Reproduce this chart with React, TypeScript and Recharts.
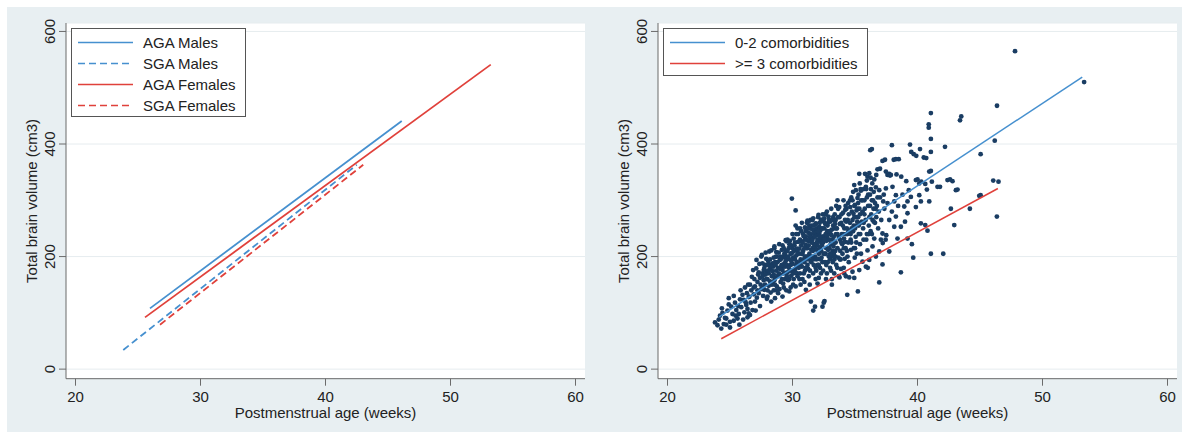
import React from "react";
import { CartesianGrid, Legend, Scatter, ScatterChart, XAxis, YAxis } from "recharts";

const FONT = "'Liberation Sans', Arial, Helvetica, sans-serif";
const BLUE = "#4690cf";
const RED = "#e0413b";
const NAVY = "#1a3d63";
const AXIS = "#6b6b6b";

const weekTicks = [20, 30, 40, 50, 60];
const volumeTicks = [0, 200, 400, 600];

// left panel: fitted lines by birth weight group and sex
const agaMales = [[25.96, 108], [46.1, 441]];
const sgaMales = [[23.82, 34], [42.5, 363]];
const agaFemales = [[25.56, 92], [53.22, 541]];
const sgaFemales = [[26.76, 79], [43.02, 363]];

// right panel: fitted lines by number of comorbidities
const fewComorbidities = [[24.14, 93], [53.18, 519]];
const manyComorbidities = [[24.3, 54], [46.43, 321]];

// right panel: individual scans (week, cm3)
const scans = [
  [23.8, 83], [24.0, 78], [24.1, 88], [24.2, 95], [24.3, 72], [24.35, 108], [24.5, 80], [24.4, 100], [24.6, 91], [24.7, 79],
  [24.7, 90], [24.8, 104], [24.9, 126], [25.0, 74], [25.1, 111], [25.2, 98], [25.3, 86], [25.4, 118], [25.45, 95], [25.5, 105],
  [25.0, 84], [25.3, 130], [24.9, 115],
  [25.6, 90], [25.7, 98], [25.75, 79], [25.8, 124], [25.9, 110], [26.0, 132], [26.1, 123], [26.15, 101], [26.2, 145], [26.3, 114],
  [26.35, 135], [26.4, 92], [26.45, 150], [26.5, 128], [26.5, 99], [25.85, 140], [26.05, 88], [26.25, 119], [25.65, 112], [26.4, 107],
  [26.55, 129], [26.6, 150], [26.65, 118], [26.7, 140], [26.8, 105], [26.85, 176], [26.9, 133], [26.95, 160], [27.0, 120], [27.0, 147],
  [27.1, 179], [27.12, 194], [27.15, 127], [27.2, 155], [27.25, 168], [27.3, 135], [27.35, 187], [27.4, 112], [27.45, 150], [27.5, 200],
  [27.5, 142], [26.75, 164], [27.05, 104], [27.3, 172], [26.6, 96], [27.2, 140], [26.9, 145], [27.4, 162],
  [27.55, 203], [27.6, 170], [27.65, 130], [27.7, 158], [27.75, 141], [27.8, 185], [27.85, 207], [27.9, 173], [27.95, 125], [28.0, 129],
  [28.0, 160], [28.05, 192], [28.1, 148], [28.14, 209], [28.2, 178], [28.25, 136], [28.3, 211], [28.35, 165], [28.4, 188], [28.45, 152],
  [28.5, 198], [28.54, 215], [28.5, 140], [27.6, 188], [27.8, 150], [28.1, 170], [28.3, 120], [28.4, 174], [27.7, 176], [28.2, 156],
  [28.0, 140], [27.9, 196], [28.45, 182], [28.15, 186], [27.65, 145],
  [27.6, 165], [27.75, 180], [27.9, 160], [28.05, 175], [28.2, 195], [28.35, 150], [28.5, 168], [28.6, 190], [28.75, 200], [28.85, 180],
  [28.3, 182], [28.0, 185], [27.85, 168], [28.55, 158], [28.7, 140],
  [28.55, 218], [28.6, 126], [28.62, 162], [28.67, 200], [28.7, 175], [28.75, 147], [28.8, 190], [28.85, 135], [28.9, 207], [28.94, 222],
  [28.99, 194], [29.0, 168], [29.05, 155], [29.1, 183], [29.15, 212], [29.2, 129], [29.2, 176], [29.25, 199], [29.3, 145], [29.35, 188],
  [29.4, 160], [29.45, 229], [29.47, 200], [29.5, 171], [29.52, 227], [28.65, 185], [28.8, 165], [28.95, 142], [29.1, 196], [29.3, 215],
  [29.4, 182], [28.7, 208], [29.0, 178], [29.25, 152], [29.45, 192], [28.9, 170], [29.15, 160], [29.35, 205], [28.6, 150], [29.5, 140],
  [29.05, 200], [29.15, 185], [29.3, 170], [29.45, 210], [29.55, 195], [29.7, 215], [29.85, 185], [29.95, 175], [30.1, 210], [30.2, 225],
  [30.3, 185], [30.45, 240], [29.2, 220], [29.6, 230], [29.9, 220], [30.05, 198], [30.35, 170], [29.75, 160], [30.25, 255], [29.4, 205],
  [29.55, 185], [29.6, 210], [29.65, 158], [29.7, 196], [29.74, 138], [29.75, 222], [29.8, 175], [29.85, 205], [29.9, 166], [29.95, 206],
  [29.95, 303], [30.0, 215], [30.0, 187], [30.05, 150], [30.1, 232], [30.15, 198], [30.2, 178], [30.25, 282], [30.25, 147], [30.27, 212],
  [30.3, 240], [30.35, 190], [30.4, 165], [30.45, 226], [30.5, 205], [30.5, 180], [29.6, 172], [29.7, 180], [29.8, 228], [29.9, 192],
  [30.05, 170], [30.15, 220], [30.3, 202], [30.4, 250], [30.45, 185], [29.65, 200], [29.85, 145], [30.1, 160], [30.25, 172], [30.35, 214],
  [29.55, 165], [30.0, 240], [30.2, 195], [30.4, 208],
  [30.55, 214], [30.6, 230], [30.6, 170], [30.65, 195], [30.7, 245], [30.75, 227], [30.75, 182], [30.8, 160], [30.85, 210], [30.9, 236],
  [30.95, 190], [31.0, 252], [31.0, 175], [31.05, 221], [31.07, 236], [31.1, 200], [31.15, 260], [31.2, 264], [31.2, 185], [31.25, 228],
  [31.3, 165], [31.3, 242], [31.35, 205], [31.4, 250], [31.45, 192], [31.47, 120], [31.5, 233], [31.5, 212], [30.65, 150], [30.8, 205],
  [30.9, 170], [31.05, 247], [31.15, 195], [31.25, 178], [31.35, 228], [31.45, 265], [30.7, 220], [30.95, 155], [31.1, 215], [31.3, 198],
  [31.4, 175], [30.6, 190], [30.85, 240], [31.0, 200], [31.2, 215], [31.45, 240], [31.28, 262], [31.07, 141], [30.55, 160], [31.38, 150],
  [30.6, 250], [30.7, 205], [30.8, 225], [30.9, 195], [31.0, 230], [31.1, 245], [31.2, 200], [31.3, 220], [31.4, 235], [31.5, 190],
  [31.6, 215], [31.7, 240], [31.8, 200], [31.9, 250], [30.75, 260], [31.05, 180], [31.35, 255], [31.65, 195], [31.95, 225], [30.65, 185],
  [31.15, 230], [31.55, 255], [31.85, 180], [30.95, 215], [31.25, 250],
  [31.55, 200], [31.6, 265], [31.6, 230], [31.66, 104], [31.66, 268], [31.7, 185], [31.75, 245], [31.8, 111], [31.8, 215], [31.85, 258],
  [31.87, 259], [31.9, 195], [31.95, 238], [32.0, 152], [32.0, 220], [32.05, 270], [32.08, 274], [32.1, 162], [32.1, 205], [32.13, 253],
  [32.15, 240], [32.2, 180], [32.25, 226], [32.27, 265], [32.3, 210], [32.35, 250], [32.4, 111], [32.4, 190], [32.45, 236], [32.5, 262],
  [32.5, 118], [31.58, 248], [31.65, 170], [31.72, 222], [31.9, 175], [31.98, 245], [32.05, 196], [32.18, 260], [32.28, 170], [32.38, 232],
  [32.48, 205], [31.62, 210], [31.78, 235], [31.92, 212], [32.02, 185], [32.22, 246], [32.42, 275], [31.7, 255], [32.12, 230], [32.32, 198],
  [32.45, 175], [31.85, 160], [32.0, 230], [32.2, 215], [31.55, 225], [32.35, 220],
  [32.05, 245], [32.15, 215], [32.25, 195], [32.35, 265], [32.45, 225], [32.55, 250], [32.65, 205], [32.75, 235], [32.85, 260], [32.95, 215],
  [33.05, 240], [33.15, 200], [33.25, 255], [33.35, 225], [33.45, 265], [32.1, 185], [32.4, 250], [32.7, 185], [33.0, 195], [33.3, 205],
  [32.2, 235], [32.6, 275], [32.9, 240], [33.2, 230], [33.5, 250],
  [32.54, 268], [32.56, 121], [32.6, 190], [32.65, 240], [32.67, 276], [32.7, 215], [32.75, 170], [32.8, 255], [32.85, 230], [32.88, 271],
  [32.9, 200], [32.95, 245], [33.0, 180], [33.0, 262], [33.05, 222], [33.1, 285], [33.15, 160], [33.15, 248], [33.2, 210], [33.25, 270],
  [33.3, 235], [33.34, 170], [33.35, 195], [33.4, 258], [33.45, 225], [33.5, 290], [33.5, 185], [32.58, 205], [32.72, 228], [32.82, 190],
  [32.92, 265], [33.02, 205], [33.12, 238], [33.22, 190], [33.32, 250], [33.42, 210], [32.62, 258], [32.78, 245], [32.98, 230], [33.08, 175],
  [33.28, 218], [33.48, 240], [32.68, 160], [33.15, 150], [32.55, 230], [33.38, 275], [32.85, 212], [33.2, 265], [33.45, 200], [32.75, 280],
  [33.0, 245],
  [33.55, 250], [33.6, 215], [33.65, 270], [33.7, 165], [33.74, 288], [33.76, 163], [33.8, 230], [33.85, 195], [33.9, 260], [33.95, 240],
  [34.0, 205], [34.05, 278], [34.1, 180], [34.14, 170], [34.15, 250], [34.2, 226], [34.22, 283], [34.27, 165], [34.3, 262], [34.35, 210],
  [34.38, 132], [34.4, 240], [34.45, 295], [34.5, 190], [33.6, 300], [33.7, 235], [33.82, 210], [33.92, 275], [34.02, 255], [34.12, 232],
  [34.32, 285], [34.42, 265], [33.58, 180], [33.78, 258], [33.98, 222], [34.18, 196], [34.48, 245], [33.68, 198], [34.08, 300], [34.28, 240],
  [33.88, 178], [34.25, 215], [34.45, 225],
  [33.6, 240], [33.75, 270], [33.9, 225], [34.05, 240], [34.2, 265], [34.35, 250], [34.5, 275], [34.65, 240], [34.8, 265], [34.95, 290],
  [35.1, 270], [35.25, 295], [35.4, 275], [33.8, 195], [34.1, 215], [34.4, 200], [34.7, 225], [35.0, 215], [35.3, 255], [34.6, 300],
  [35.2, 285], [33.65, 285], [34.25, 290], [34.9, 255], [35.45, 320],
  [34.54, 163], [34.6, 260], [34.65, 230], [34.7, 305], [34.75, 280], [34.8, 300], [34.8, 173], [34.85, 245], [34.9, 215], [34.94, 162],
  [34.94, 327], [34.95, 270], [35.0, 292], [35.05, 235], [35.07, 318], [35.1, 255], [35.15, 205], [35.2, 304], [35.23, 138], [35.25, 270],
  [35.3, 240], [35.34, 347], [35.34, 176], [35.35, 285], [35.4, 222], [35.45, 260], [35.47, 317], [35.5, 300], [34.62, 288], [34.72, 250],
  [34.88, 276], [35.0, 250], [35.12, 282], [35.28, 310], [35.42, 240], [34.68, 212], [34.98, 198], [35.18, 262], [35.38, 330], [35.48, 205],
  [34.85, 315], [35.1, 225],
  [35.6, 191], [35.6, 280], [35.65, 250], [35.7, 320], [35.75, 300], [35.8, 347], [35.85, 265], [35.87, 324], [35.87, 182], [35.9, 230],
  [36.0, 342], [36.0, 211], [36.02, 180], [36.05, 290], [36.1, 255], [36.14, 194], [36.14, 348], [36.2, 310], [36.22, 389], [36.27, 320],
  [36.3, 275], [36.35, 391], [36.35, 240], [36.4, 218], [36.45, 300], [36.5, 262], [35.68, 230], [35.78, 285], [35.95, 305], [36.15, 270],
  [36.38, 330], [35.55, 262], [36.25, 245], [36.48, 285], [35.95, 240],
  [35.6, 300], [35.75, 275], [35.9, 320], [36.05, 310], [36.2, 290], [36.35, 300], [36.5, 315], [36.65, 285], [36.8, 305], [35.7, 260],
  [36.1, 240], [36.4, 265], [36.7, 345], [35.95, 335], [36.25, 340],
  [36.54, 337], [36.54, 232], [36.6, 295], [36.67, 323], [36.67, 200], [36.7, 270], [36.8, 355], [36.85, 250], [36.94, 318], [36.94, 209],
  [36.9, 280], [36.94, 154], [37.0, 356], [37.0, 305], [37.07, 230], [37.2, 370], [37.2, 241], [37.2, 186], [37.22, 224], [37.26, 298],
  [37.4, 372], [37.47, 351], [37.47, 321], [37.45, 230], [37.5, 238], [36.75, 290], [37.1, 265], [37.35, 285], [36.6, 260], [37.3, 310],
  [37.6, 345], [37.6, 295], [37.74, 347], [37.74, 209], [37.74, 265], [37.8, 344], [37.87, 345], [38.0, 324], [38.1, 372], [38.14, 253],
  [38.14, 298], [38.27, 309], [38.27, 271], [38.27, 373], [38.32, 346], [38.4, 232], [38.5, 373], [38.67, 253], [38.67, 172], [38.7, 342],
  [37.95, 398], [37.95, 280], [38.45, 290],
  [38.94, 289], [39.0, 262], [39.1, 334], [39.2, 298], [39.2, 277], [39.2, 232], [39.4, 399], [39.47, 306], [39.5, 386], [39.55, 222],
  [39.66, 198], [39.7, 382], [39.9, 379], [38.8, 310], [39.3, 318],
  [39.87, 336], [39.87, 288], [40.0, 337], [40.14, 330], [40.14, 309], [40.27, 298], [40.2, 391], [40.27, 259], [40.3, 333], [40.5, 376],
  [40.62, 329], [40.62, 256], [40.7, 375], [40.75, 319], [40.8, 246], [40.94, 351], [40.94, 298],
  [41.07, 455], [41.07, 409], [41.07, 386], [41.07, 352], [41.07, 205], [41.15, 333], [41.6, 324], [41.8, 324], [40.9, 435], [40.9, 429],
  [42.06, 205], [42.2, 395], [42.4, 336], [42.6, 337], [42.67, 285], [42.8, 334], [42.94, 256], [43.07, 318], [43.2, 319], [43.4, 442],
  [43.5, 449], [44.19, 285], [44.94, 308], [45.05, 382], [45.05, 309], [46.06, 335], [46.18, 406], [46.35, 271], [46.36, 468], [46.48, 333],
  [47.8, 565], [53.33, 510],
];

const toPoints = (pairs: number[][]) => pairs.map(([week, volume]) => ({ week, volume }));

type Series = { name: string; points: number[][]; color: string; dash?: string; width: number };

const leftSeries: Series[] = [
  { name: "AGA Males", points: agaMales, color: BLUE, width: 1.8 },
  { name: "SGA Males", points: sgaMales, color: BLUE, dash: "7 4", width: 1.8 },
  { name: "AGA Females", points: agaFemales, color: RED, width: 1.8 },
  { name: "SGA Females", points: sgaFemales, color: RED, dash: "7 4", width: 1.8 },
];

const rightSeries: Series[] = [
  { name: "0-2 comorbidities", points: fewComorbidities, color: BLUE, width: 1.5 },
  { name: ">= 3 comorbidities", points: manyComorbidities, color: RED, width: 1.5 },
];

function XTick(props: any) {
  const { x, y, payload } = props;
  return (
    <text x={x} y={y} dy={14.5} textAnchor="middle" fontSize={15} fontFamily={FONT} fill="#222">
      {payload.value}
    </text>
  );
}

function YTick(props: any) {
  const { x, y, payload } = props;
  const bx = x - 2;
  return (
    <text x={bx} y={y} transform={`rotate(-90 ${bx} ${y})`} textAnchor="middle" fontSize={15} fontFamily={FONT} fill="#222">
      {payload.value}
    </text>
  );
}

function LegendBox({ series, width, height }: { series: Series[]; width: number; height: number }) {
  return (
    <div
      style={{
        width,
        height,
        boxSizing: "border-box",
        border: "1px solid #555",
        background: "#fff",
        paddingTop: 2.5,
        fontFamily: FONT,
        fontSize: 15,
        color: "#222",
        lineHeight: "21px",
      }}
    >
      {series.map((s) => (
        <div key={s.name} style={{ display: "flex", alignItems: "center", height: 21, whiteSpace: "nowrap" }}>
          <svg width={62} height={21} style={{ marginLeft: 6, flex: "none" }}>
            <line x1={0} x2={55} y1={10.5} y2={10.5} stroke={s.color} strokeWidth={1.6} strokeDasharray={s.dash} />
          </svg>
          <span style={{ marginLeft: 3 }}>{s.name}</span>
        </div>
      ))}
    </div>
  );
}

function Panel({ series, legendWidth, legendHeight, showScans }: { series: Series[]; legendWidth: number; legendHeight: number; showScans?: boolean }) {
  return (
    <ScatterChart width={590} height={432} margin={{ top: 23, right: 5, bottom: 0, left: 0 }}>
      <CartesianGrid vertical={false} stroke="#e6ecef" fill="#ffffff" fillOpacity={1} />
      <XAxis
        type="number"
        dataKey="week"
        domain={[19.24, 60.76]}
        ticks={weekTicks}
        allowDataOverflow
        height={53.3}
        tickSize={7}
        stroke={AXIS}
        tick={<XTick />}
        label={{ value: "Postmenstrual age (weeks)", position: "insideBottom", offset: 14.5, fontSize: 15, fontFamily: FONT, fill: "#222" }}
      />
      <YAxis
        type="number"
        dataKey="volume"
        domain={[-17, 615]}
        ticks={volumeTicks}
        allowDataOverflow
        width={66}
        tickSize={7}
        stroke={AXIS}
        tick={<YTick />}
        label={{
          content: () => (
            <text x={37} y={201} transform="rotate(-90 37 201)" textAnchor="middle" fontSize={15} fontFamily={FONT} fill="#222">
              Total brain volume (cm3)
            </text>
          ),
        }}
      />
      <Legend
        layout="vertical"
        align="center"
        verticalAlign="middle"
        wrapperStyle={{ left: 71, top: 28, width: "auto", height: "auto" }}
        content={() => <LegendBox series={series} width={legendWidth} height={legendHeight} />}
      />
      {showScans && (
        <Scatter
          name="scans"
          data={toPoints(scans)}
          isAnimationActive={false}
          legendType="none"
          shape={(p: any) => <circle cx={p.cx} cy={p.cy} r={2.4} fill={NAVY} />}
        />
      )}
      {series.map((s) => (
        <Scatter
          key={s.name}
          name={s.name}
          data={toPoints(s.points)}
          isAnimationActive={false}
          line={{ stroke: s.color, strokeWidth: s.width, strokeDasharray: s.dash }}
          shape={() => <g />}
        />
      ))}
    </ScatterChart>
  );
}

export default function App() {
  return (
    <div style={{ position: "absolute", left: 0, top: 0, width: 1189, height: 432, background: "#fff", overflow: "hidden" }}>
      <div style={{ position: "absolute", left: 7, top: 7, width: 1175, height: 425, background: "#e8eff2" }} />
      <div style={{ position: "absolute", left: 0, top: 0 }}>
        <Panel series={leftSeries} legendWidth={175} legendHeight={89} />
      </div>
      <div style={{ position: "absolute", left: 592, top: 0 }}>
        <Panel series={rightSeries} legendWidth={205} legendHeight={48} showScans />
      </div>
    </div>
  );
}
